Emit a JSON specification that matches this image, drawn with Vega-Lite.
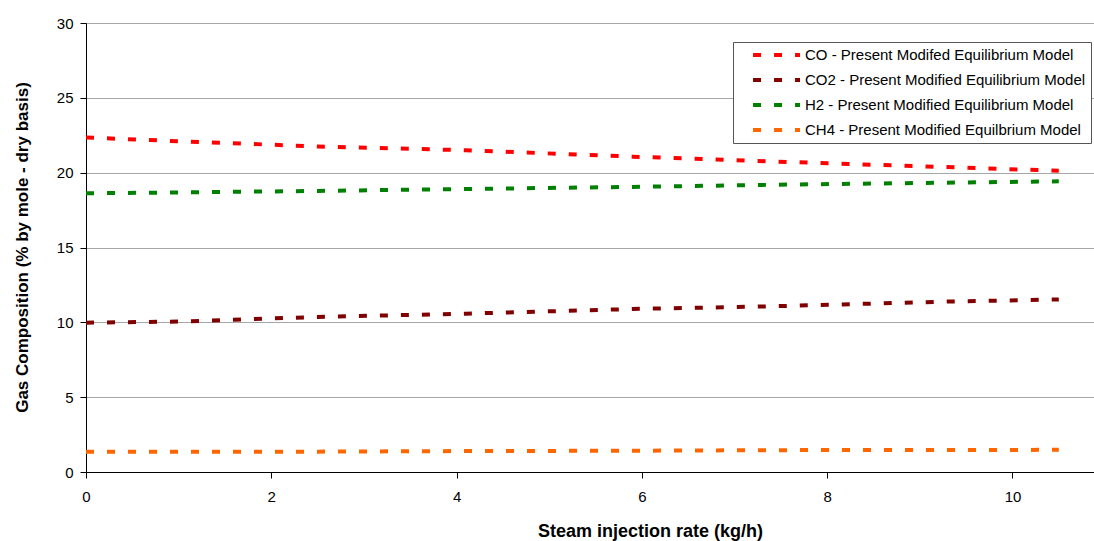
{
  "$schema": "https://vega.github.io/schema/vega-lite/v6.json",
  "autosize": "none",
  "width": 1008,
  "height": 449,
  "padding": {"left": 86, "top": 23, "right": 0, "bottom": 69},
  "background": "white",
  "config": {
    "view": {"stroke": null},
    "font": "Liberation Sans",
    "axis": {"labelFont": "Liberation Sans", "titleFont": "Liberation Sans"}
  },
  "data": {
    "values": [
      {"rate": 0, "gas": "CO - Present Modifed Equilibrium Model", "value": 22.35},
      {"rate": 1.0, "gas": "CO - Present Modifed Equilibrium Model", "value": 22.1},
      {"rate": 2.5, "gas": "CO - Present Modifed Equilibrium Model", "value": 21.75},
      {"rate": 4.1, "gas": "CO - Present Modifed Equilibrium Model", "value": 21.5},
      {"rate": 5.9, "gas": "CO - Present Modifed Equilibrium Model", "value": 21.07},
      {"rate": 7.4, "gas": "CO - Present Modifed Equilibrium Model", "value": 20.75},
      {"rate": 9.25, "gas": "CO - Present Modifed Equilibrium Model", "value": 20.38},
      {"rate": 10.5, "gas": "CO - Present Modifed Equilibrium Model", "value": 20.13},
      {"rate": 0, "gas": "CO2 - Present Modified Equilibrium Model", "value": 9.98},
      {"rate": 1.0, "gas": "CO2 - Present Modified Equilibrium Model", "value": 10.05},
      {"rate": 2.5, "gas": "CO2 - Present Modified Equilibrium Model", "value": 10.36},
      {"rate": 4.1, "gas": "CO2 - Present Modified Equilibrium Model", "value": 10.58},
      {"rate": 5.9, "gas": "CO2 - Present Modified Equilibrium Model", "value": 10.89},
      {"rate": 7.4, "gas": "CO2 - Present Modified Equilibrium Model", "value": 11.07},
      {"rate": 9.25, "gas": "CO2 - Present Modified Equilibrium Model", "value": 11.38},
      {"rate": 10.5, "gas": "CO2 - Present Modified Equilibrium Model", "value": 11.53},
      {"rate": 0, "gas": "H2 - Present Modified Equilibrium Model", "value": 18.62},
      {"rate": 1.0, "gas": "H2 - Present Modified Equilibrium Model", "value": 18.68},
      {"rate": 2.5, "gas": "H2 - Present Modified Equilibrium Model", "value": 18.78},
      {"rate": 4.1, "gas": "H2 - Present Modified Equilibrium Model", "value": 18.91},
      {"rate": 5.9, "gas": "H2 - Present Modified Equilibrium Model", "value": 19.05},
      {"rate": 7.4, "gas": "H2 - Present Modified Equilibrium Model", "value": 19.19},
      {"rate": 9.25, "gas": "H2 - Present Modified Equilibrium Model", "value": 19.33},
      {"rate": 10.5, "gas": "H2 - Present Modified Equilibrium Model", "value": 19.42},
      {"rate": 0, "gas": "CH4 - Present Modified Equilbrium Model", "value": 1.35},
      {"rate": 1.0, "gas": "CH4 - Present Modified Equilbrium Model", "value": 1.35},
      {"rate": 2.5, "gas": "CH4 - Present Modified Equilbrium Model", "value": 1.36},
      {"rate": 4.1, "gas": "CH4 - Present Modified Equilbrium Model", "value": 1.4},
      {"rate": 5.9, "gas": "CH4 - Present Modified Equilbrium Model", "value": 1.42},
      {"rate": 7.4, "gas": "CH4 - Present Modified Equilbrium Model", "value": 1.46},
      {"rate": 9.25, "gas": "CH4 - Present Modified Equilbrium Model", "value": 1.47},
      {"rate": 10.5, "gas": "CH4 - Present Modified Equilbrium Model", "value": 1.48}
    ]
  },
  "mark": {"type": "line", "strokeWidth": 4, "strokeDash": [8, 13], "strokeCap": "butt", "clip": true},
  "encoding": {
    "x": {
      "field": "rate", "type": "quantitative",
      "scale": {"domain": [0, 10.88], "nice": false, "zero": false},
      "axis": {
        "title": "Steam injection rate (kg/h)",
        "values": [0, 2, 4, 6, 8, 10],
        "grid": false,
        "labelFlush": false,
        "domainColor": "#000000", "tickColor": "#000000",
        "tickSize": 6, "labelPadding": 11,
        "labelFontSize": 15, "labelColor": "#000000",
        "titleFontSize": 18, "titleFontWeight": "bold", "titleColor": "#000000",
        "titleX": 564, "titleY": 59, "titleBaseline": "middle", "titleAlign": "center"
      }
    },
    "y": {
      "field": "value", "type": "quantitative",
      "scale": {"domain": [0, 30], "nice": false},
      "axis": {
        "title": "Gas Composition (% by mole - dry basis)",
        "values": [0, 5, 10, 15, 20, 25, 30],
        "grid": true, "gridColor": "#a6a6a6", "gridOpacity": 1,
        "labelFlush": false,
        "domainColor": "#000000", "tickColor": "#000000",
        "tickSize": 6, "labelPadding": 7,
        "labelFontSize": 15, "labelColor": "#000000",
        "titleFontSize": 17, "titleFontWeight": "bold", "titleColor": "#000000",
        "titleAngle": -90, "titleX": -64, "titleY": 224, "titleBaseline": "middle", "titleAlign": "center"
      }
    },
    "color": {
      "field": "gas", "type": "nominal",
      "scale": {
        "domain": ["CO - Present Modifed Equilibrium Model", "CO2 - Present Modified Equilibrium Model", "H2 - Present Modified Equilibrium Model", "CH4 - Present Modified Equilbrium Model"],
        "range": ["#ff0000", "#800000", "#008000", "#ff6600"]
      },
      "legend": {
        "title": null,
        "orient": "none",
        "legendX": 647,
        "legendY": 19,
        "strokeColor": "#555555",
        "fillColor": "#ffffff",
        "padding": 5,
        "symbolType": "M1.2,0H9.2",
        "symbolSize": 138,
        "symbolStrokeWidth": 4,
        "symbolDash": [8, 13],
        "labelFontSize": 15,
        "labelColor": "#000000",
        "labelLimit": 400,
        "labelOffset": 51,
        "rowPadding": 9
      }
    }
  }
}
